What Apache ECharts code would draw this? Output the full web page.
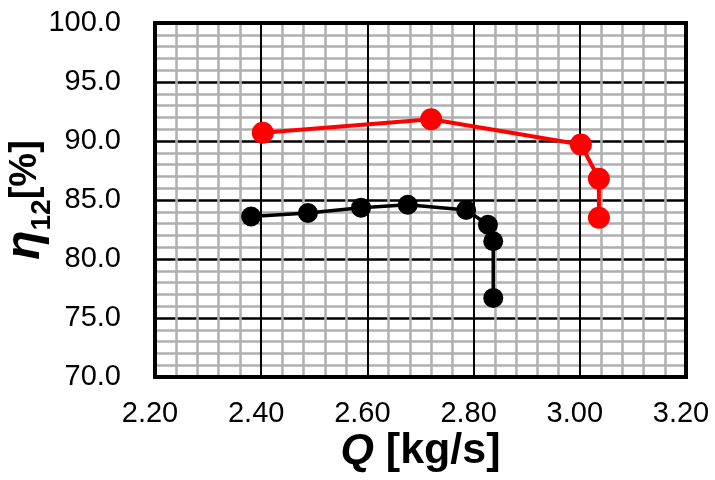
<!DOCTYPE html>
<html><head><meta charset="utf-8">
<script src="https://cdn.jsdelivr.net/npm/echarts@6/dist/echarts.min.js"></script>
<style>html,body{margin:0;padding:0;background:#fff}#c{width:715px;height:480px}</style>
</head><body><div id="c"></div>
<script>
const blackQ = [2.381, 2.488, 2.588, 2.676, 2.786, 2.827, 2.837, 2.837];
const blackEta = [83.6, 83.9, 84.35, 84.6, 84.15, 82.9, 81.5, 76.7];
const redQ = [2.403, 2.720, 3.002, 3.036, 3.036];
const redEta = [90.7, 91.85, 89.7, 86.8, 83.5];
const xTicks = [2.2, 2.4, 2.6, 2.8, 3.0, 3.2];
const yTicks = [70, 75, 80, 85, 90, 95, 100];

const font = '"Liberation Sans", Arial, sans-serif';
const chart = echarts.init(document.getElementById('c'));
chart.setOption({
  animation: false,
  backgroundColor: '#fff',
  grid: { left: 155, right: 29, top: 23, bottom: 103, containLabel: false, outerBoundsMode: 'none',
          show: true, borderColor: '#000', borderWidth: 4, z: 3 },
  xAxis: {
    type: 'value', min: xTicks[0], max: xTicks[xTicks.length-1], interval: 0.2,
    axisLine: { show: false },
    axisTick: { show: false },
    axisLabel: { fontFamily: font, fontSize: 29, color: '#000', margin: 22, padding: [0, 10, 0, 0], formatter: v => v.toFixed(2) },
    splitLine: { show: true, lineStyle: { color: '#000', width: 2 } },
    minorTick: { show: false, splitNumber: 5 },
    minorSplitLine: { show: true, lineStyle: { color: '#b0b0b0', width: 2.5 } },
    name: '{i|Q }{b|[kg/s]}', nameLocation: 'middle', nameGap: 53, nameMoveOverlap: false,
    nameTextStyle: { rich: {
      i: { fontFamily: font, fontSize: 43, fontWeight: 'bold', fontStyle: 'italic', color: '#000' },
      b: { fontFamily: font, fontSize: 43, fontWeight: 'bold', color: '#000' } } }
  },
  yAxis: {
    type: 'value', min: yTicks[0], max: yTicks[yTicks.length-1], interval: 5,
    axisLine: { show: false },
    axisTick: { show: false },
    axisLabel: { fontFamily: font, fontSize: 29, color: '#000', margin: 34, formatter: v => v.toFixed(1) },
    splitLine: { show: true, lineStyle: { color: '#000', width: 2.5 } },
    minorTick: { show: false, splitNumber: 5 },
    minorSplitLine: { show: true, lineStyle: { color: '#b0b0b0', width: 2.5 } },
    name: '{i|η}{s|12}{b|[%]}', nameLocation: 'middle', nameGap: 107, nameRotate: 90, nameMoveOverlap: false,
    nameTextStyle: { rich: {
      i: { fontFamily: font, fontSize: 48, fontWeight: 'bold', fontStyle: 'italic', color: '#000', verticalAlign: 'bottom', height: 44, lineHeight: 44 },
      s: { fontFamily: font, fontSize: 28, fontWeight: 'bold', color: '#000', verticalAlign: 'bottom', height: 28, lineHeight: 28, padding: [0, 0, -8, 0] },
      b: { fontFamily: font, fontSize: 38, fontWeight: 'bold', color: '#000', verticalAlign: 'bottom', height: 44, lineHeight: 44 } } }
  },
  series: [
    { type: 'line', data: blackQ.map((q, i) => [q, blackEta[i]]), symbol: 'circle', symbolSize: 20,
      lineStyle: { color: '#000', width: 3.5 }, itemStyle: { color: '#000' }, z: 5 },
    { type: 'line', data: redQ.map((q, i) => [q, redEta[i]]), symbol: 'circle', symbolSize: 22,
      lineStyle: { color: '#ff0000', width: 4 }, itemStyle: { color: '#ff0000' }, z: 5 }
  ]
});
</script></body></html>
